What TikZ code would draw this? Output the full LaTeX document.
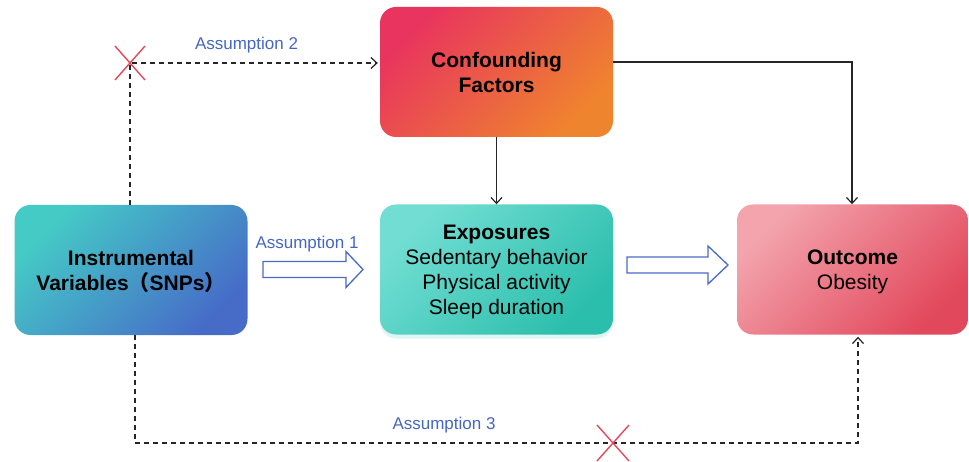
\documentclass[tikz,border=0pt]{standalone}
\usepackage{fontspec}
\setmainfont{Liberation Sans}
\newfontfamily\cjkfont{Noto Sans CJK SC}
\usetikzlibrary{arrows.meta,shadows}
\definecolor{ivA}{HTML}{45CBC6}
\definecolor{ivB}{HTML}{466CC8}
\definecolor{cfA}{HTML}{E8345E}
\definecolor{cfB}{HTML}{EF842E}
\definecolor{exA}{HTML}{72DED3}
\definecolor{exB}{HTML}{2CBEAC}
\definecolor{ouA}{HTML}{F3A4AD}
\definecolor{ouB}{HTML}{E2485C}
\definecolor{lblue}{HTML}{4466C4}
\definecolor{xred}{HTML}{E04A5A}
\definecolor{ablue}{HTML}{4A6AC6}
\newcommand\hollowarrow[6]{%
  \draw[blockarrow] (#1,#3-#4) -- (#2-#6,#3-#4) -- (#2-#6,#3-#5) -- (#2,#3)
    -- (#2-#6,#3+#5) -- (#2-#6,#3+#4) -- (#1,#3+#4) -- cycle;}
\begin{document}
\begin{tikzpicture}[x=1pt,y=-1pt,
  box/.style={rounded corners=16pt, minimum width=233pt, minimum height=130pt,
    inner sep=0pt, align=center, text depth=0pt, font=\fontsize{21}{25}\selectfont},
  lbl/.style={text=lblue, font=\fontsize{17}{20}\selectfont, inner sep=0pt},
  dline/.style={line width=1.3pt, dash pattern=on 5pt off 4pt, black!85},
  sline/.style={line width=1.3pt, black!85},
  tip/.style={-{Straight Barb[length=6pt,width=11pt,line width=1.2pt]}},
  xline/.style={line width=1.4pt, xred},
  blockarrow/.style={line width=1.3pt, ablue, fill=white, line join=miter}]
\useasboundingbox (0,0) rectangle (969,462);

\node[box, top color=ivA, bottom color=ivB, shading angle=45] (iv) at (131,270)
  {\textbf{Instrumental}\\\textbf{Variables{\cjkfont （}SNPs{\cjkfont ）}}};
\node[box, top color=cfA, bottom color=cfB, shading angle=45] (conf) at (496.5,72)
  {\textbf{Confounding}\\\textbf{Factors}};
\node[box, top color=exA, bottom color=exB, shading angle=45,
  drop shadow={shadow xshift=0pt, shadow yshift=-4pt, opacity=0.15, fill=exB}] (exp) at (496.5,269.5)
  {\textbf{Exposures}\\Sedentary behavior\\Physical activity\\Sleep duration};
\node[box, minimum width=231pt, top color=ouA, bottom color=ouB, shading angle=45] (out) at (852.5,269.5)
  {\textbf{Outcome}\\Obesity};

\coordinate (c1) at (130,63);
\coordinate (c2) at (852,62);
\coordinate (c3) at (135,443);
\coordinate (c4) at (858,443);
\coordinate (x3) at (613,443);

% Assumption 2
\draw[dline, tip, shorten >=2pt] (iv.north -| c1) -- (c1) -- (conf.west |- c1);
\draw[xline] (c1) +(-15,-17) -- +(15,17) (c1) +(-15,17) -- +(15,-17);
\node[lbl] (a2) at (246.5,45) {Assumption 2};

% Assumption 3
\draw[dline, tip, shorten >=2pt] (iv.south -| c3) -- (c3) -- (c4) -- (out.south -| c4);
\draw[xline] (x3) +(-16,-18) -- +(16,18) (x3) +(-16,18) -- +(16,-18);
\node[lbl] (a3) at (444,425) {Assumption 3};

% solid arrows
\draw[sline, tip] (conf.south) -- (exp.north);
\draw[sline, tip] (conf.east |- c2) -- (c2) -- (out.north -| c2);

% Assumption 1 and block arrows
\node[lbl] (a1) at (307,244) {Assumption 1};
\hollowarrow{263}{363}{269.5}{8}{18}{17}
\hollowarrow{627}{728}{265}{8}{19}{20}
\end{tikzpicture}
\end{document}
